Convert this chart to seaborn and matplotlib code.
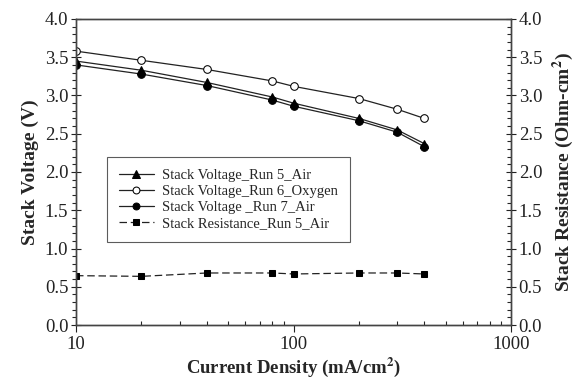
import matplotlib
matplotlib.use("Agg")
import matplotlib.pyplot as plt
import seaborn as sns
import pandas as pd
from matplotlib.ticker import MultipleLocator, FixedLocator, NullFormatter, FixedFormatter

sns.set_theme(style="white")
plt.rcParams['font.family'] = ['Liberation Serif', 'DejaVu Serif']
plt.rcParams['mathtext.fontset'] = 'stix'

current = [10, 20, 40, 80, 100, 200, 300, 400]
run5_air = [3.45, 3.33, 3.17, 2.98, 2.90, 2.70, 2.55, 2.37]
run6_oxygen = [3.58, 3.46, 3.34, 3.19, 3.12, 2.96, 2.82, 2.70]
run7_air = [3.40, 3.28, 3.13, 2.94, 2.86, 2.67, 2.52, 2.33]
resistance_run5 = [0.645, 0.636, 0.68, 0.68, 0.667, 0.68, 0.68, 0.667]

labels = ["Stack Voltage_Run 5_Air", "Stack Voltage_Run 6_Oxygen",
          "Stack Voltage _Run 7_Air", "Stack Resistance_Run 5_Air"]

fig = plt.figure(figsize=(5.8, 3.85), dpi=100)
ax = fig.add_axes([76/580, 1-325/385, (511-76)/580, (325-19)/385])

df = pd.DataFrame({"x": current, "r5": run5_air, "r6": run6_oxygen,
                   "r7": run7_air, "res": resistance_run5})

lw = 0.9
sns.lineplot(data=df, x="x", y="r5", ax=ax, color="#222222", lw=lw, marker="^",
             markersize=6, markerfacecolor="black", markeredgecolor="black", label=labels[0])
sns.lineplot(data=df, x="x", y="r6", ax=ax, color="#222222", lw=lw, marker="o",
             markersize=5.5, markerfacecolor="white", markeredgecolor="black", label=labels[1])
sns.lineplot(data=df, x="x", y="r7", ax=ax, color="#222222", lw=lw, marker="o",
             markersize=5.5, markerfacecolor="black", markeredgecolor="black", label=labels[2])
sns.lineplot(data=df, x="x", y="res", ax=ax, color="#222222", lw=lw, marker="s",
             markersize=5, markerfacecolor="black", markeredgecolor="black",
             linestyle=(0, (6, 3)), label=labels[3])

ax.set_xscale("log")
ax.set_xlim(10, 1000)
ax.set_ylim(0, 4.0)
ax.yaxis.set_major_locator(MultipleLocator(0.5))
ax.yaxis.set_minor_locator(MultipleLocator(0.1))
ax.set_yticklabels([f"{v:.1f}" for v in ax.get_yticks()])
ax.xaxis.set_major_locator(FixedLocator([10, 100, 1000]))
ax.xaxis.set_major_formatter(FixedFormatter(["10", "100", "1000"]))
ax.xaxis.set_minor_locator(FixedLocator([20, 30, 40, 50, 60, 70, 80, 90,
                                         200, 300, 400, 500, 600, 700, 800, 900]))
ax.xaxis.set_minor_formatter(NullFormatter())

for s in ax.spines.values():
    s.set_color("#444444")
    s.set_linewidth(1.0)

ax.tick_params(axis="y", which="major", direction="inout", length=7, width=0.8,
               labelsize=13.5, colors="#222222", left=True, pad=2)
ax.tick_params(axis="y", which="minor", direction="out", length=3, width=0.8, left=True)
ax.tick_params(axis="x", which="major", direction="out", length=5, width=0.8,
               labelsize=13.5, colors="#222222", bottom=True, pad=3)
ax.tick_params(axis="x", which="minor", direction="in", length=3, width=0.8, bottom=True)

ax.set_xlabel("Current Density (mA/cm$^{\\mathbf{2}}$)", fontsize=13.5, fontweight="bold",
              labelpad=2)
ax.set_ylabel("Stack Voltage (V)", fontsize=14, fontweight="bold", labelpad=4)

ax2 = ax.twinx()
ax2.set_ylim(0, 4.0)
ax2.yaxis.set_major_locator(MultipleLocator(0.5))
ax2.yaxis.set_minor_locator(MultipleLocator(0.1))
ax2.set_yticklabels([f"{v:.1f}" for v in ax2.get_yticks()])
ax2.tick_params(axis="y", which="major", direction="inout", length=7, width=0.8,
                labelsize=13.5, colors="#222222", right=True, pad=2)
ax2.tick_params(axis="y", which="minor", direction="in", length=3, width=0.8, right=True)
ax2.set_ylabel("Stack Resistance (Ohm-cm$^{\\mathbf{2}}$)", fontsize=14,
               fontweight="bold", labelpad=6)
for s in ax2.spines.values():
    s.set_color("#444444")
    s.set_linewidth(1.0)

leg = ax.legend(loc="upper left", bbox_to_anchor=((107-76)/435, (325-157)/306),
                borderaxespad=0, fontsize=10.5, frameon=True, fancybox=False,
                handlelength=2.4, borderpad=0.8, labelspacing=0.2, handletextpad=0.6,
                markerscale=0.9)
leg.get_frame().set_edgecolor("#333333")
leg.get_frame().set_linewidth(0.8)

fig.savefig("out.png", dpi=100)
